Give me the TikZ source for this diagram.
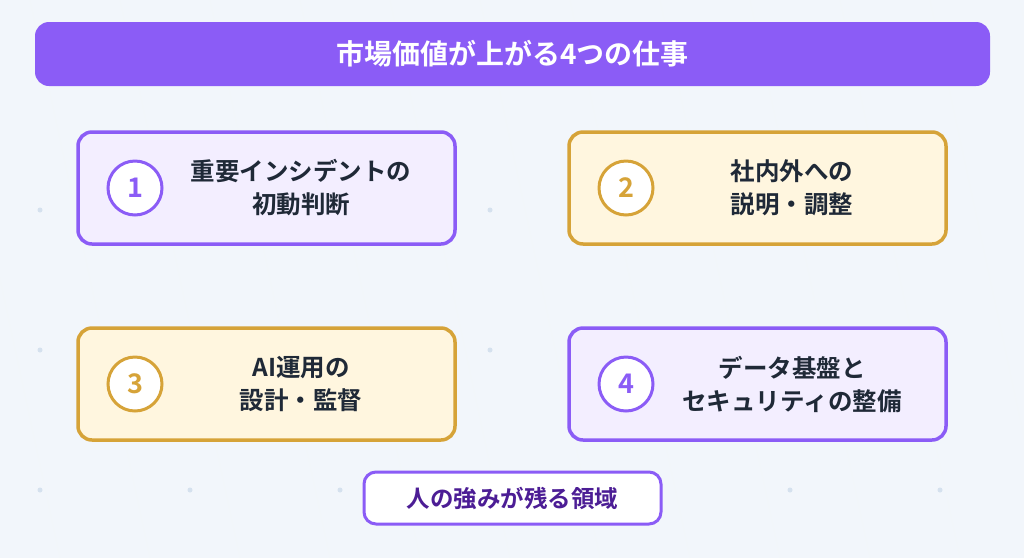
\documentclass[tikz,border=0pt]{standalone}
\usepackage{fontspec}
\setmainfont{Noto Sans CJK JP}[BoldFont={* Bold}]
\definecolor{bg}{HTML}{F2F6FB}
\definecolor{pur}{HTML}{8B5CF6}
\definecolor{purfill}{HTML}{F3EEFF}
\definecolor{gold}{HTML}{D6A338}
\definecolor{goldfill}{HTML}{FFF6DF}
\definecolor{ink}{HTML}{1F2937}
\definecolor{deep}{HTML}{4C1D95}
\definecolor{dotc}{HTML}{D5E1EE}
\begin{document}
\begin{tikzpicture}[x=1pt,y=-1pt,
  card/.style={draw, line width=3.5pt, rounded corners=14pt, minimum width=377pt, minimum height=112pt},
  pcard/.style={card, draw=pur, fill=purfill},
  gcard/.style={card, draw=gold, fill=goldfill},
  num/.style={circle, draw, line width=3pt, fill=white, minimum size=54pt, font=\bfseries\fontsize{27}{27}\selectfont},
  lbl/.style={font=\bfseries\fontsize{24.5}{33}\selectfont, text=ink, align=center}]
\fill[bg] (0,0) rectangle (1024,558);
\useasboundingbox (0,0) rectangle (1024,558);
\foreach \i in {0,...,12}{\draw[white!70!dotc, line width=0.6pt] (\i*90-60,0) -- (\i*90+60,558);}
\foreach \x/\y in {40/210,490/210,40/350,490/350,940/350,40/490,190/490,340/490,490/490,640/490,790/490,940/490,940/210}{\fill[dotc] (\x,\y) circle (2.5pt);}
\node[fill=pur, rounded corners=14pt, minimum width=955pt, minimum height=64pt, text=white, font=\bfseries\fontsize{28}{28}\selectfont] (title) at (512.5,54) {市場価値が上がる4つの仕事};
\node[pcard] (c1) at (266.5,188) {};
\node[gcard] (c2) at (757.5,188) {};
\node[gcard] (c3) at (266.5,384) {};
\node[pcard] (c4) at (757.5,384) {};
\node[num, draw=pur, text=pur] (n1) at (135,188) {1};
\node[num, draw=gold, text=gold] (n2) at (626,188) {2};
\node[num, draw=gold, text=gold] (n3) at (135,384) {3};
\node[num, draw=pur, text=pur] (n4) at (626,384) {4};
\node[lbl] (t1) at (301,188) {重要インシデントの\\初動判断};
\node[lbl] (t2) at (792,188) {社内外への\\説明・調整};
\node[lbl] (t3) at (301,384) {AI運用の\\設計・監督};
\node[lbl] (t4) at (792,384) {データ基盤と\\セキュリティの整備};
\node[draw=pur, line width=3pt, fill=white, rounded corners=12pt, minimum width=297pt, minimum height=52pt, text=deep, font=\bfseries\fontsize{23.5}{23.5}\selectfont] (foot) at (512.5,498) {人の強みが残る領域};
\end{tikzpicture}
\end{document}
